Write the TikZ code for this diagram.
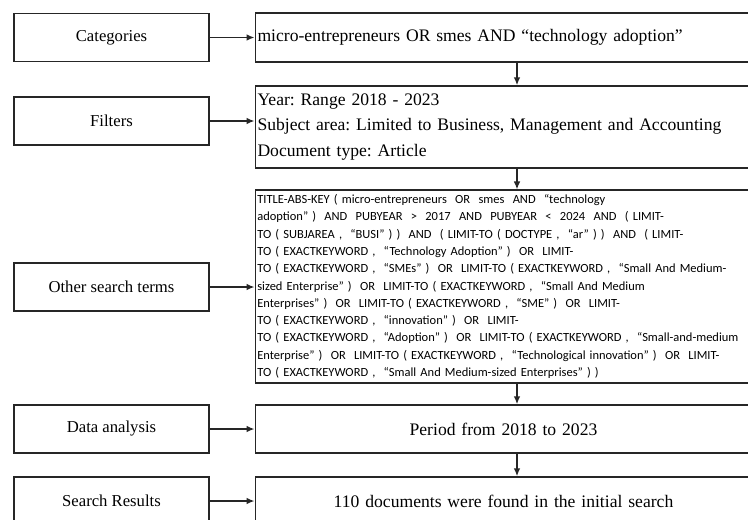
\documentclass[tikz,border=0pt]{standalone}
\usepackage{fontspec}
\setmainfont{Liberation Serif}
\newfontfamily\queryfont[Ligatures=TeX]{Carlito}
\usetikzlibrary{arrows.meta}
\frenchspacing

\begin{document}
\begin{tikzpicture}[x=0.75pt,y=-0.75pt]

\tikzset{stage/.style = {shape=rectangle,draw=black!85,line width=1.1pt,minimum width=146.25pt,minimum height=36pt,font=\fontsize{12.5}{15}\selectfont}}
\tikzset{step box/.style = {shape=rectangle,draw=black!85,line width=1.1pt,anchor=west,minimum width=372.4pt,text width=369pt,inner xsep=1.6pt,font=\fontsize{13.2}{19}\selectfont}}
\tikzset{edge/.style = {-{Latex[length=6pt,width=5pt]},line width=1.1pt,draw=black!85}}
\useasboundingbox[fill=white] (0,0) rectangle (748,519);
\coordinate (spine) at (517,0);
%left column
\node[stage] (cat) at (111.5,37.5) {Categories};
\node[stage] (fil) at (111.5,121) {Filters};
\node[stage] (oth) at (111.5,287) {Other search terms};
\node[stage] (dat) at (111.5,429) {Data analysis};
\node[stage] (res) at (111.5,501) {Search Results};
%right column
\node[step box, minimum height=36.75pt, align=left] (q1) at (254.5,37.5) {micro-entrepreneurs OR smes AND ``technology adoption''};
\node[step box, minimum height=61.5pt, align=left] (q2) at (254.5,127) {Year: Range 2018 - 2023\\Subject area: Limited to Business, Management and Accounting\\Document type: Article};
\node[step box, minimum height=141.75pt, text width=420pt, align=left, font=\queryfont\fontsize{9.35}{12.95}\selectfont] (q3) at (254.5,286.5) {TITLE-ABS-KEY ( micro-entrepreneurs~ OR~ smes~ AND~ ``technology\\
adoption'' )~ AND~ PUBYEAR~ >~ 2017~ AND~ PUBYEAR~ <~ 2024~ AND~ ( LIMIT-\\
TO ( SUBJAREA ,~ ``BUSI'' ) )~ AND~ ( LIMIT-TO ( DOCTYPE ,~ ``ar'' ) )~ AND~ ( LIMIT-\\
TO ( EXACTKEYWORD ,~ ``Technology Adoption'' )~ OR~ LIMIT-\\
TO ( EXACTKEYWORD ,~ ``SMEs'' )~ OR~ LIMIT-TO ( EXACTKEYWORD ,~ ``Small And Medium-\\
sized Enterprise'' )~ OR~ LIMIT-TO ( EXACTKEYWORD ,~ ``Small And Medium\\
Enterprises'' )~ OR~ LIMIT-TO ( EXACTKEYWORD ,~ ``SME'' )~ OR~ LIMIT-\\
TO ( EXACTKEYWORD ,~ ``innovation'' )~ OR~ LIMIT-\\
TO ( EXACTKEYWORD ,~ ``Adoption'' )~ OR~ LIMIT-TO ( EXACTKEYWORD ,~ ``Small-and-medium\\
Enterprise'' )~ OR~ LIMIT-TO ( EXACTKEYWORD ,~ ``Technological innovation'' )~ OR~ LIMIT-\\
TO ( EXACTKEYWORD ,~ ``Small And Medium-sized Enterprises'' ) )};
\node[step box, minimum height=36pt, align=center] (q4) at (254.5,429) {Period from 2018 to 2023};
\node[step box, minimum height=36pt, align=center] (q5) at (254.5,501) {110 documents were found in the initial search};
%edges
\draw [edge] (cat) -- (cat -| q1.west);
\draw [edge] (fil) -- (fil -| q2.west);
\draw [edge] (oth) -- (oth -| q3.west);
\draw [edge] (dat) -- (dat -| q4.west);
\draw [edge] (res) -- (res -| q5.west);
\draw [edge] (q1.south -| spine) -- (q2.north -| spine);
\draw [edge] (q2.south -| spine) -- (q3.north -| spine);
\draw [edge] (q3.south -| spine) -- (q4.north -| spine);
\draw [edge] (q4.south -| spine) -- (q5.north -| spine);

\end{tikzpicture}
\end{document}
